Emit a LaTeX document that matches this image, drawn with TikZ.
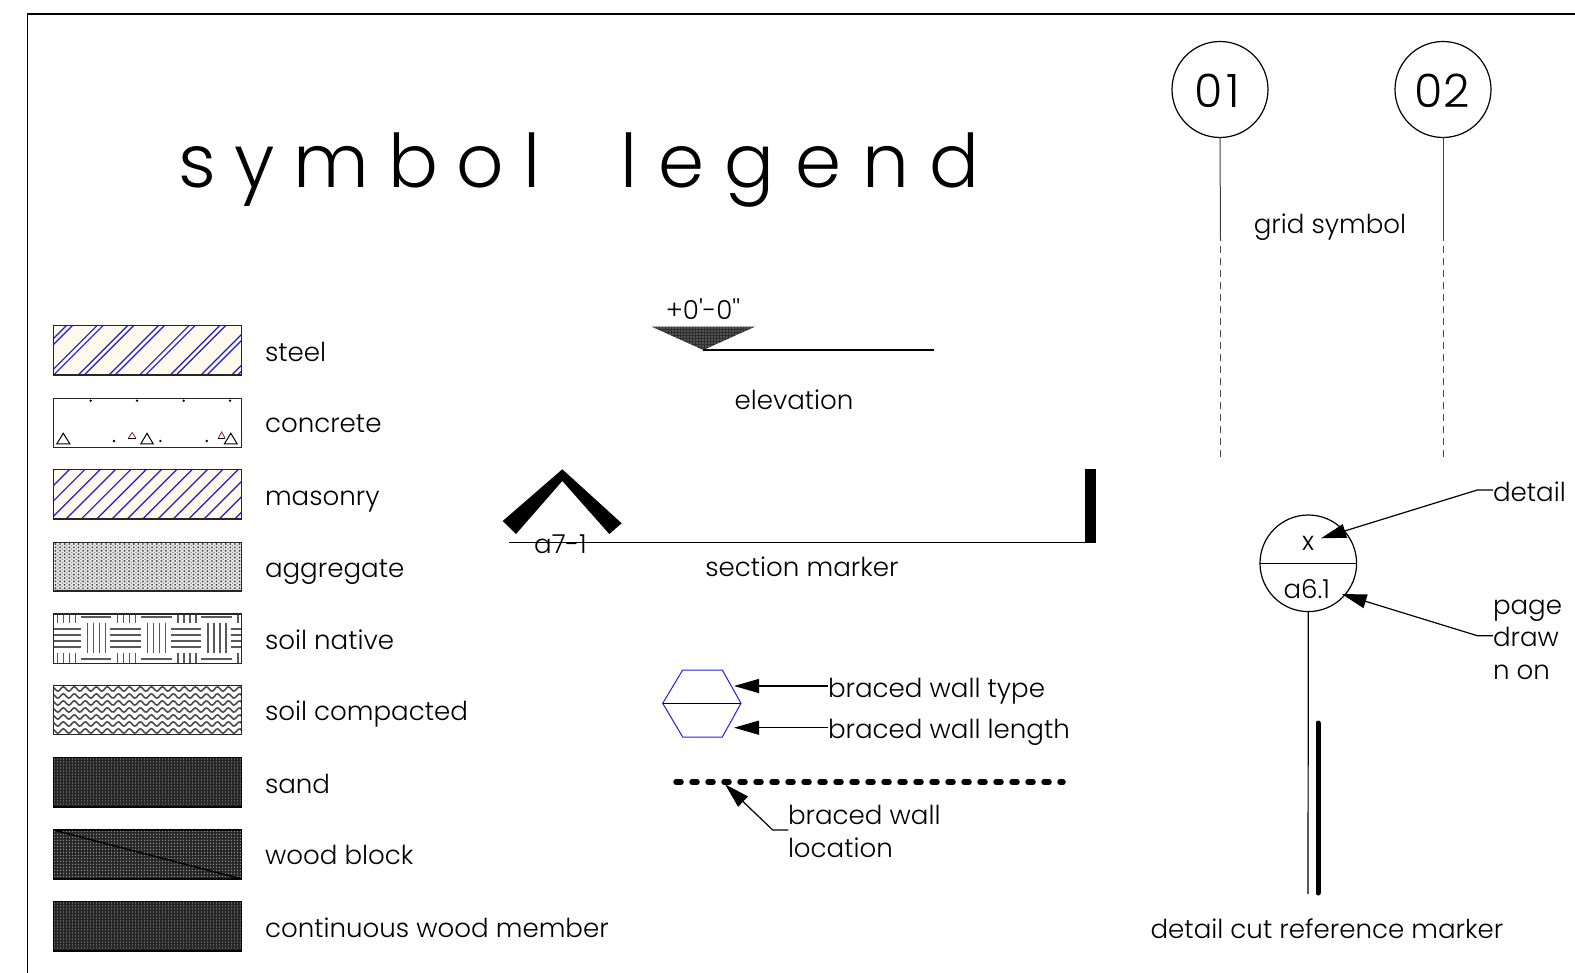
\documentclass[tikz,border=0pt]{standalone}
\usepackage{fontspec}
\setmainfont{Poppins}[UprightFont=* Light]
\newfontfamily\plainf{Poppins}[UprightFont=* Light]
\usetikzlibrary{arrows.meta}
\definecolor{cream}{HTML}{FFF9EE}
\definecolor{hatchblue}{HTML}{1A1AD8}
\definecolor{darkfill}{HTML}{262626}
\definecolor{dotgrey}{HTML}{8E8E8E}
\definecolor{hexblue}{HTML}{2020E0}
\definecolor{redtri}{HTML}{A02020}
\newcommand{\swatchbox}[3]{\draw[#3] (53.5,#1) rectangle (241.7,#2);}
\newcommand{\swatchclip}[2]{\clip (53.5,#1) rectangle (241.7,#2);}
\tikzset{
  every node/.style={inner sep=0pt,outer sep=0pt},
  lbl/.style={font=\fontsize{26.1}{32}\selectfont,anchor=base west,text=black},
  lblc/.style={font=\fontsize{26.1}{32}\selectfont,anchor=base,text=black},
  border/.style={draw=black!85,line width=1.4pt},
  arrowline/.style={line width=1.2pt,black,-{Triangle[length=25pt,width=14pt]}},
  thinline/.style={line width=1.2pt,black},
  gridline/.style={line width=1pt,black!75},
  griddash/.style={line width=1pt,black!70,dash pattern=on 7pt off 5pt,dash phase=7pt},
}
\begin{document}
\begin{tikzpicture}[x=1pt,y=-1pt]
\useasboundingbox (0,0) rectangle (1575,973);
\fill[white] (0,0) rectangle (1575,973);
% frame
\draw[line width=1.3pt,black] (1575,14) -- (27.5,14) -- (27.5,973);
% title
\node[anchor=base,font=\fontsize{74}{80}\selectfont] (title) at (579,188) {s\hspace{-1.5pt} y\hspace{-1.5pt} m\hspace{-1.5pt} b\hspace{-1.5pt} o\hspace{-1.5pt} l\hspace{60pt} l\hspace{.5pt} e\hspace{.5pt} g\hspace{.5pt} e\hspace{.5pt} n\hspace{.5pt} d};
% steel
\fill[cream] (53.5,325.7) rectangle (241.7,375);
\begin{scope}
\swatchclip{325.7}{375}
\foreach \k in {0,...,10} {
  \draw[hatchblue,line width=1.2pt] ({-13.7+\k*30.67},375) -- ++(60,-60);
  \draw[hatchblue,line width=1.2pt] ({-7.7+\k*30.67},375) -- ++(60,-60);
}
\end{scope}
\swatchbox{325.7}{375}{border}
% concrete
\begin{scope}[line width=1pt]
\draw (56.7,444) -- (63.3,433.3) -- (70,444) -- cycle;
\draw (140.7,444) -- (147,433.3) -- (153.3,444) -- cycle;
\draw (224.3,444) -- (230.8,433.3) -- (237.3,444) -- cycle;
\draw[redtri,line width=.8pt] (128.3,438.3) -- (132.1,432.5) -- (136,438.3);
\draw[black,line width=.8pt] (128.3,438.3) -- (136,438.3);
\draw[redtri,line width=.8pt] (218.3,438) -- (221.6,432) -- (225,438);
\draw[black,line width=.8pt] (218.3,438) -- (225,438);
\fill (90.7,400.7) circle[radius=1.3pt] (137,400.7) circle[radius=1.3pt] (183.7,400.7) circle[radius=1.3pt] (230,400.7) circle[radius=1.3pt];
\fill (114,441) circle[radius=1.3pt] (160.3,441) circle[radius=1.3pt] (206.7,441) circle[radius=1.3pt];
\end{scope}
\swatchbox{398.3}{447.3}{border}
% masonry
\fill[cream] (53.5,469.3) rectangle (241.7,519);
\begin{scope}
\swatchclip{469.3}{519}
\foreach \k in {0,...,19} {
  \draw[hatchblue,line width=1.2pt] ({4.7+\k*15.33},519) -- ++(60,-60);
}
\end{scope}
\swatchbox{469.3}{519}{border}
% aggregate
\begin{scope}
\swatchclip{542.7}{591}
\fill[black!8] (53.5,542.7) rectangle (241.7,591);
\fill[black!72] \foreach \i in {0,...,41} {\foreach \j in {0,...,14} {({55.5+\i*4.6},{544+\j*3.4}) circle[radius=1.05pt]}};
\fill[black!38] \foreach \i in {0,...,41} {\foreach \j in {0,...,14} {({57.8+\i*4.6},{545.7+\j*3.4}) circle[radius=1pt]}};
\end{scope}
\swatchbox{542.7}{591}{border}
% soil native
\begin{scope}
\swatchclip{614}{663.3}
\foreach \k in {0,1,2,3} {
  \begin{scope}[shift={({53.5+\k*60.3},614)},line width=1.6pt,black!65]
  \foreach \vx in {3.8,9.8,15.8,21.8} {
    \draw (\vx,0) -- (\vx,8.7);
    \draw (\vx,39) -- (\vx,49.3);
  }
  \foreach \vx in {33.8,39.8,45.8,51.8} \draw (\vx,8.7) -- (\vx,39.3);
  \draw (27.2,2.7) -- (57.8,2.7);
  \draw (27.2,44.7) -- (57.8,44.7);
  \foreach \hy in {15,21,26.7,32.7} \draw (-3.5,\hy) -- (27.2,\hy);
  \end{scope}
}
\end{scope}
\swatchbox{614}{663.3}{border}
% soil compacted
\begin{scope}
\swatchclip{685.7}{734.7}
\foreach \r in {0,...,6} {
  \draw[black!70,line width=1.6pt,domain=53:242,samples=110] plot (\x,{689+\r*7+2.2*sin(\x*32.7)});
}
\end{scope}
\swatchbox{685.7}{734.7}{border}
% sand
\begin{scope}
\swatchclip{757.7}{807}
\fill[darkfill] (53.5,757.7) rectangle (241.7,807);
\fill[dotgrey] \foreach \i in {0,...,63} {\foreach \j in {0,...,16} {({54.5+\i*3},{759+\j*3}) circle[radius=.7pt]}};
\end{scope}
\swatchbox{757.7}{807}{draw=black,line width=1.5pt}
% wood block
\begin{scope}
\swatchclip{830}{879}
\fill[darkfill] (53.5,830) rectangle (241.7,879);
\fill[dotgrey] \foreach \i in {0,...,63} {\foreach \j in {0,...,16} {({54.5+\i*3},{831.3+\j*3}) circle[radius=.7pt]}};
\end{scope}
\draw[black,line width=1.4pt] (53.5,830) -- (241.7,879);
\swatchbox{830}{879}{draw=black,line width=1.5pt}
% continuous
\begin{scope}
\swatchclip{901.7}{951}
\fill[darkfill] (53.5,901.7) rectangle (241.7,951);
\fill[dotgrey] \foreach \i in {0,...,63} {\foreach \j in {0,...,16} {({54.5+\i*3},{903+\j*3}) circle[radius=.7pt]}};
\end{scope}
\swatchbox{901.7}{951}{draw=black,line width=1.5pt}
% swatch labels
\node[lbl] (lsteel) at (265,361.5) {steel};
\node[lbl] (lconc) at (265,433) {concrete};
\node[lbl] (lmas) at (265,505) {masonry};
\node[lbl] (lagg) at (265,577) {aggregate};
\node[lbl] (lnat) at (265,649) {soil native};
\node[lbl] (lcomp) at (265,720) {soil compacted};
\node[lbl] (lsand) at (265,793) {sand};
\node[lbl] (lwood) at (265,864) {wood block};
\node[lbl] (lcont) at (265,937) {continuous wood member};
% elevation
\coordinate (elA) at (651.7,326.7);
\coordinate (elB) at (755,326.7);
\coordinate (elC) at (703.3,350);
\coordinate (elD) at (934.3,350);
\begin{scope}
\clip (elA) -- (elB) -- (elC) -- cycle;
\fill[black!82] (elA) -- (elB) -- (elC) -- cycle;
\fill[black!20] \foreach \i in {0,...,35} {\foreach \j in {0,...,8} {({652+\i*3},{328+\j*3}) circle[radius=.65pt]}};
\end{scope}
\draw[thinline] (elC) -- (elD);
\node[lblc,font=\fontsize{26.1}{32}\plainf] (elev) at (703,320) {+0'-0''};
\node[lblc] (elevl) at (794,410) {elevation};
% section marker
\fill[black] (562.3,469.3) -- (621.7,523.3) -- (609.3,534) -- (562.3,481) -- (516,534) -- (502.7,521) -- cycle;
\coordinate (secA) at (509.3,542.5);
\coordinate (secB) at (1086,542.5);
\draw[thinline] (secA) -- (secB);
\fill[black] (1085,469) rectangle (1096,543);
\node[lblc] (seclab) at (560.5,553) {a7-1};
\node[lblc] (secname) at (802,576.5) {section marker};
% hexagon
\draw[hexblue,line width=1pt] (662.7,703.3) -- (682.7,670) -- (722.3,670) -- (741,703.3) -- (722.3,737) -- (682.7,737) -- cycle;
\coordinate (hexL) at (662.7,703.3);
\coordinate (hexR) at (741,703.3);
\draw[thinline] (hexL) -- (hexR);
\coordinate (tipA) at (734,686);
\coordinate (tipB) at (734,727.7);
\node[lbl] (bwt) at (828,697) {braced wall type};
\node[lbl] (bwl) at (828,738) {braced wall length};
\draw[arrowline] (828,686) -- (tipA);
\draw[arrowline] (828,727.7) -- (tipB);
% braced wall location
\coordinate (dotA) at (676,782);
\coordinate (dotB) at (1063,782);
\draw[line width=5.5pt,line cap=round,dash pattern=on 5pt off 11pt,black] (dotA) -- (dotB);
\coordinate (tipC) at (725,784.3);
\coordinate (kneeC) at (772.7,830);
\coordinate (endC) at (788.3,830);
\draw[arrowline] (endC) -- (kneeC) -- (tipC);
\node[lbl] (bwloc) at (788,824) {braced wall};
\node[lbl] (bwloc2) at (788,857) {location};
% grid symbols
\node[draw,circle,minimum size=96pt,line width=1.2pt] (g1) at (1220,89.5) {};
\node[draw,circle,minimum size=96pt,line width=1.2pt] (g2) at (1443,89.5) {};
\node[anchor=base,font=\fontsize{46}{50}\selectfont] (g1t) at (1217,108) {0\kern4pt 1};
\node[anchor=base,font=\fontsize{46}{50}\selectfont] (g2t) at (1442,108) {02};
\coordinate (g1m) at (1220.5,241);
\coordinate (g1e) at (1220.5,458);
\coordinate (g2m) at (1443,241);
\coordinate (g2e) at (1443,458);
\draw[gridline] (g1.south) -- (g1m);
\draw[gridline] (g2.south) -- (g2m);
\draw[griddash] (g1m) -- (g1e);
\draw[griddash] (g2m) -- (g2e);
\node[lblc] (gridl) at (1330,234) {grid symbol};
% detail marker
\node[draw,circle,minimum size=96.6pt,line width=1.2pt] (det) at (1308.3,563.3) {};
\draw[thinline] (det.west) -- (det.east);
\node[lblc] (detx) at (1308,550) {x};
\node[lblc] (deta) at (1306.7,598) {a6.1};
\coordinate (detK1) at (1477.3,490);
\coordinate (detK2) at (1477.3,635.7);
\coordinate (detT1) at (1321,538.3);
\coordinate (detT2) at (1341.7,594);
\node[lbl] (ldet) at (1493,501) {detail};
\node[lbl] (lpage) at (1493,614) {page};
\node[lbl] (ldraw) at (1493,646) {draw};
\node[lbl] (lnon) at (1493,679) {n on};
\draw[arrowline] (1493,490) -- (detK1) -- (detT1);
\draw[arrowline] (1493,635.7) -- (detK2) -- (detT2);
\coordinate (detB) at (1308,894);
\draw[thinline] (det.south) -- (detB);
\coordinate (thA) at (1318,723);
\coordinate (thB) at (1318,893);
\draw[line width=5pt,line cap=round,black] (thA) -- (thB);
\node[lblc] (ldc) at (1327,938) {detail cut reference marker};
\end{tikzpicture}
\end{document}
